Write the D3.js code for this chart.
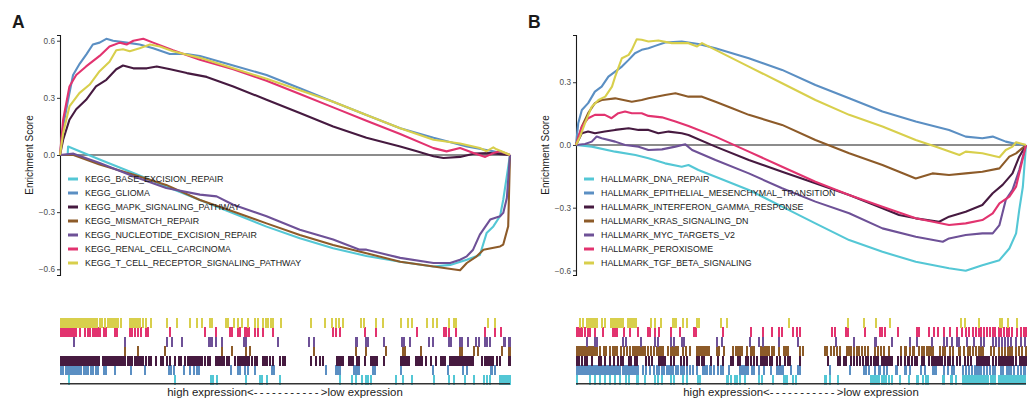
<!DOCTYPE html>
<html>
<head>
<meta charset="utf-8">
<script src="https://cdn.jsdelivr.net/npm/d3@7/dist/d3.min.js"></script>
<style>
  body { margin: 0; background: #fff; }
  svg { display: block; font-family: "Liberation Sans", Arial, sans-serif; }
</style>
</head>
<body>
<svg width="1035" height="400"></svg>
<script>
// ranked list length, hits are gene ranks in it
const N_GENES = 18000;

// panel A: KEGG sets, curves as [% of ranked list, enrichment score]
const keggNames = ['KEGG_BASE_EXCISION_REPAIR', 'KEGG_GLIOMA', 'KEGG_MAPK_SIGNALING_PATHWAY',
  'KEGG_MISMATCH_REPAIR', 'KEGG_NUCLEOTIDE_EXCISION_REPAIR', 'KEGG_RENAL_CELL_CARCINOMA',
  'KEGG_T_CELL_RECEPTOR_SIGNALING_PATHWAY'];

const esBaseExcision = [[0,0],[1.7,0],[1.8,0.045],[8.8,-0.024],[16.3,-0.095],[23.6,-0.165],[31.1,-0.236],[38.5,-0.306],[45.9,-0.376],[53.3,-0.437],[60.7,-0.49],[68.1,-0.53],[75.6,-0.56],[83.0,-0.585],[86.7,-0.577],[90.4,-0.55],[93.3,-0.525],[94.8,-0.41],[96.3,-0.375],[97.8,-0.32],[98.5,-0.235],[99.3,-0.11],[100,0]];
const esGlioma = [[0,0],[0.7,0.15],[1.8,0.29],[2.9,0.42],[4.4,0.48],[5.9,0.53],[7.3,0.58],[8.8,0.59],[10.3,0.61],[11.8,0.6],[14.8,0.59],[17.7,0.58],[20.7,0.56],[24.4,0.53],[28.1,0.53],[31.1,0.52],[38.5,0.47],[45.9,0.42],[53.3,0.35],[60.7,0.28],[68.1,0.21],[75.6,0.14],[83.0,0.09],[90.4,0.045],[96.3,0.02],[100,0]];
const esMapk = [[0,0],[0.7,0.08],[2.1,0.185],[3.6,0.24],[5.8,0.29],[8.0,0.36],[10.3,0.395],[12.5,0.45],[14.0,0.47],[16.3,0.455],[19.3,0.455],[21.5,0.465],[24.5,0.45],[28.2,0.43],[32.6,0.41],[38.5,0.36],[45.9,0.29],[53.3,0.22],[60.7,0.15],[68.1,0.09],[75.6,0.045],[79.3,0.02],[83.0,-0.007],[85.2,-0.016],[88.9,-0.01],[91.9,0.007],[95.6,0.01],[100,0]];
const esMismatch = [[0,0],[3.0,0],[8.8,-0.05],[16.2,-0.103],[23.6,-0.157],[31.1,-0.236],[38.5,-0.297],[45.9,-0.359],[53.3,-0.42],[60.7,-0.472],[68.1,-0.516],[75.6,-0.56],[83.0,-0.585],[88.9,-0.605],[90.4,-0.567],[92.6,-0.532],[94.1,-0.497],[97.8,-0.48],[98.5,-0.47],[99.6,-0.374],[100,0]];
const esNucleotide = [[0,0],[3.0,0.007],[8.8,-0.042],[16.3,-0.112],[23.6,-0.173],[31.1,-0.208],[34.8,-0.217],[38.5,-0.261],[45.9,-0.322],[53.3,-0.392],[60.7,-0.444],[66.6,-0.497],[68.1,-0.497],[75.6,-0.54],[83.0,-0.567],[86.7,-0.567],[88.9,-0.55],[90.4,-0.532],[91.8,-0.497],[93.3,-0.418],[95.6,-0.339],[97.8,-0.322],[98.5,-0.304],[99.3,-0.226],[100,0]];
const esRenal = [[0,0],[0.7,0.185],[2.1,0.36],[3.6,0.42],[5.8,0.465],[8.8,0.52],[11.0,0.57],[13.3,0.59],[14.8,0.58],[16.3,0.6],[18.5,0.61],[20.7,0.59],[25.1,0.55],[31.1,0.5],[38.5,0.45],[45.9,0.39],[53.3,0.32],[60.7,0.25],[68.1,0.18],[75.6,0.11],[83.0,0.036],[85.9,0.019],[88.9,0.037],[91.9,0.01],[94.5,-0.01],[96.3,0.01],[97.8,0.02],[100,0]];
const esTCell = [[0,0],[0.7,0.115],[2.1,0.255],[4.3,0.325],[6.6,0.37],[8.8,0.44],[11.0,0.49],[12.5,0.55],[14.0,0.555],[15.5,0.545],[17.7,0.56],[20.0,0.58],[22.2,0.57],[25.1,0.545],[31.1,0.51],[38.5,0.455],[45.9,0.4],[53.3,0.34],[60.7,0.28],[68.1,0.21],[75.6,0.14],[83.0,0.08],[88.9,0.06],[93.3,0.037],[94.8,0.02],[96.3,0.04],[97.0,0.03],[100,0]];

const hitsBaseExcision = [348,4600,6040,6100,6280,7440,8000,8080,8280,8800,11200,11680,11840,12080,12240,12320,12440,13440,13720,14080,14960,15560,15760,16200,16560,16960,17080,17200,17600,17680,17760,17840,17920,17990];
const hitsGlioma = [20,120,240,320,400,480,560,640,700,760,840,960,1040,1120,1220,1320,1440,1520,1740,1840,2180,2840,3400,4360,4440,4560,4960,5200,5360,5480,5560,6840,7120,7200,7400,7520,7800,8480,8540,10640,11040,11120,11200,11760,11840,11920,11960,12520,12600,13640,14920,15520,16120,16280,17240,17280,17400];
const hitsMapk = [20,60,120,180,240,300,360,420,480,540,600,660,720,780,840,900,960,1020,1080,1140,1200,1260,1320,1380,1440,1500,1560,1720,1800,1880,1960,2040,2120,2200,2280,2360,2440,2520,2600,2720,2800,2880,3000,3080,3160,3240,3320,3440,3560,3640,3840,4040,4120,4280,4400,4600,4760,4840,5000,5120,5200,5280,5360,5440,5520,5600,5680,5800,5920,6000,6240,6320,6400,6480,6560,6680,6760,6980,7120,7200,7280,7360,7440,7520,7560,7680,7800,7880,8120,8200,8280,8400,8520,8800,8920,9000,10040,10240,10400,10520,11080,11160,11240,11320,11560,11640,11720,11880,11960,12200,12440,12520,12600,12680,12960,13640,13720,13800,13880,13960,14240,14320,14400,14480,14640,14840,15040,15240,15320,15400,15600,15680,15760,15840,15920,16000,16080,16160,16240,16280,16360,16440,16520,16880,17000,17080,17160,17240,17320,17480,17600,17960,17990];
const hitsMismatch = [2600,3120,4200,6480,6880,7440,7600,10160,11840,12240,13040,13720,13780,14440,16000,16080,16560,16720,17680,17960,17990];
const hitsNucleotide = [560,2600,4280,4480,4880,5960,6000,6060,6240,6480,7360,7440,8720,9960,10160,11840,11880,12240,12320,12960,13680,13740,14000,14760,14920,15560,15640,16000,16080,16320,16640,16760,17000,17080,17200,17760,17800,17960,17990];
const hitsRenal = [20,80,160,240,320,400,480,560,620,800,1000,1120,1200,1320,1400,1480,1560,1600,1740,1840,2180,2280,2800,2880,3000,3120,3240,3440,3500,4400,5800,6240,6800,6880,7120,7200,7400,7480,7560,7800,7920,8120,8520,10920,11040,11200,12200,12640,14280,15360,15440,15560,15840,17000,17400,17640];
const hitsTCell = [20,60,120,180,240,300,360,440,520,580,640,720,760,840,900,960,1020,1100,1200,1260,1320,1400,1480,1600,1680,1800,1920,2000,2080,2160,2240,2320,2440,2800,2880,2960,3040,3120,3200,3320,3440,3640,4280,4680,5220,5480,5680,6000,6080,6640,6700,6960,7120,7280,7520,7800,7920,8120,8240,8320,8440,8520,8840,10040,10600,10880,11040,11160,11320,12040,12160,12640,12920,13640,13920,14080,14680,14920,15080,15560,15760,15840,17120,17400];

// panel B: HALLMARK sets
const hallmarkNames = ['HALLMARK_DNA_REPAIR', 'HALLMARK_EPITHELIAL_MESENCHYMAL_TRANSITION',
  'HALLMARK_INTERFERON_GAMMA_RESPONSE', 'HALLMARK_KRAS_SIGNALING_DN', 'HALLMARK_MYC_TARGETS_V2',
  'HALLMARK_PEROXISOME', 'HALLMARK_TGF_BETA_SIGNALING'];

const esDnaRepair = [[0,0],[3.5,-0.008],[8.7,-0.032],[13.2,-0.048],[16.1,-0.064],[19.8,-0.088],[23.5,-0.104],[25.0,-0.096],[27.2,-0.12],[31.0,-0.152],[38.4,-0.215],[45.8,-0.295],[53.2,-0.375],[60.7,-0.455],[68.1,-0.511],[75.5,-0.559],[82.9,-0.59],[86.6,-0.602],[90.3,-0.575],[94.1,-0.551],[96.3,-0.495],[97.8,-0.423],[98.5,-0.311],[99.3,-0.2],[100,0]];
const esEmt = [[0,0],[0.5,0.104],[1.3,0.167],[2.7,0.2],[4.2,0.255],[5.7,0.279],[7.2,0.327],[8.7,0.351],[10.2,0.375],[11.7,0.407],[13.1,0.439],[14.6,0.455],[16.1,0.463],[17.6,0.474],[19.8,0.49],[23.5,0.495],[27.2,0.483],[31.0,0.463],[38.4,0.415],[45.8,0.359],[53.2,0.287],[60.7,0.223],[68.1,0.16],[75.5,0.112],[82.9,0.072],[86.6,0.04],[90.3,0.032],[92.6,0.04],[95.5,0.016],[97.8,0.005],[100,0]];
const esIfng = [[0,0],[1.3,0.056],[2.7,0.064],[4.2,0.056],[6.4,0.064],[8.7,0.072],[11.7,0.08],[13.9,0.072],[16.1,0.072],[18.3,0.056],[20.6,0.064],[23.5,0.056],[25.0,0.048],[31.0,-0.008],[38.4,-0.072],[45.8,-0.128],[53.2,-0.183],[60.7,-0.239],[68.1,-0.303],[71.8,-0.335],[75.5,-0.351],[80.7,-0.367],[82.9,-0.343],[86.6,-0.319],[90.3,-0.287],[92.6,-0.231],[94.8,-0.191],[97.0,-0.136],[98.5,-0.056],[100,0]];
const esKras = [[0,0],[1.3,0.088],[2.7,0.152],[4.2,0.2],[5.7,0.215],[8.7,0.223],[12.4,0.207],[14.6,0.215],[16.1,0.223],[19.8,0.239],[22.1,0.247],[25.0,0.231],[28.0,0.231],[31.0,0.207],[34.7,0.176],[38.4,0.144],[45.8,0.096],[53.2,0.024],[60.7,-0.04],[68.1,-0.096],[75.5,-0.16],[79.2,-0.136],[82.9,-0.144],[86.6,-0.136],[90.3,-0.128],[94.1,-0.112],[96.3,-0.056],[97.8,-0.04],[100,0]];
const esMyc = [[0,0],[2.0,0.005],[3.5,0.016],[4.6,0.04],[5.7,0.032],[8.7,0.016],[10.9,0],[13.9,-0.008],[16.1,-0.024],[19.1,-0.021],[22.1,-0.008],[24.3,0.003],[25.8,-0.024],[31.0,-0.072],[38.4,-0.136],[45.8,-0.207],[53.2,-0.271],[60.7,-0.327],[68.1,-0.399],[75.5,-0.439],[81.5,-0.463],[82.9,-0.447],[86.6,-0.431],[90.3,-0.423],[92.6,-0.423],[94.1,-0.383],[95.5,-0.263],[97.0,-0.215],[98.5,-0.12],[100,0]];
const esPeroxisome = [[0,0],[1.3,0.088],[2.7,0.128],[4.2,0.144],[6.4,0.144],[7.9,0.128],[9.4,0.152],[10.9,0.16],[12.4,0.152],[14.6,0.152],[16.1,0.139],[19.1,0.132],[22.1,0.112],[25.0,0.091],[31.0,0.04],[38.4,-0.032],[45.8,-0.104],[53.2,-0.176],[60.7,-0.239],[68.1,-0.295],[75.5,-0.351],[82.9,-0.383],[86.6,-0.375],[90.3,-0.359],[92.6,-0.327],[94.1,-0.279],[96.3,-0.247],[97.8,-0.199],[100,0]];
const esTgfBeta = [[0,0],[0.9,0.04],[2.0,0.104],[3.5,0.183],[5.0,0.215],[6.5,0.231],[8.0,0.279],[8.7,0.327],[10.2,0.415],[11.7,0.431],[12.4,0.455],[13.5,0.506],[14.6,0.503],[16.1,0.495],[18.3,0.5],[21.3,0.487],[25.0,0.487],[26.9,0.471],[28.0,0.487],[31.0,0.455],[38.4,0.375],[45.8,0.295],[53.2,0.215],[60.7,0.144],[68.1,0.088],[75.5,0.024],[80.0,-0.008],[85.2,-0.048],[86.6,-0.032],[90.3,-0.04],[94.1,-0.059],[95.5,-0.024],[97.0,-0.008],[97.8,0.013],[100,0]];

const hitsDnaRepair = [20,560,760,940,1160,1360,1560,1760,2000,2120,2440,2480,2760,3160,3280,3440,3800,3920,4280,4440,4880,4960,6040,6080,6200,6360,6440,6560,6760,7320,7440,7880,8320,8360,8440,8680,8800,9960,10000,10160,10480,11800,11880,11960,12040,12120,12240,12320,12400,12520,12640,12960,13320,13640,13680,13880,14000,14080,14680,14720,15000,15040,15200,15480,15560,15640,15720,15800,15880,15960,16040,16120,16200,16280,16360,16400,16480,16600,16680,16760,16920,17000,17080,17160,17240,17320,17400,17480,17560,17640,17720,17800,17880,17960];
const hitsEmt = [20,80,160,240,320,400,440,520,600,680,760,840,920,960,1000,1080,1160,1240,1280,1360,1440,1520,1600,1680,1760,1880,1920,2000,2080,2160,2240,2320,2400,2480,2680,2800,2960,3120,3240,3320,3440,3520,3640,3720,3800,3880,4000,4080,4200,4280,4320,4440,4560,4680,4840,5080,5160,5240,5360,5400,5520,5680,5800,5880,6120,6560,6640,6720,6800,6880,7040,7120,7320,7520,7800,8040,8120,8200,8280,8600,8880,8960,10160,10960,11520,11600,11720,11960,12120,12160,12320,12440,12800,12840,13160,13200,13360,13800,13960,14280,14320,14400,14720,14880,15040,15120,15480,15600,15720,15840,15960,16040,16120,16200,16320,16440,16560,16680,16760,17000,17080,17240,17320,17400,17520,17680,17800,17920,17960];
const hitsIfng = [20,120,240,360,440,640,920,1000,1160,1360,1520,1680,1800,1880,2120,2200,2360,2440,2800,2920,3040,3320,3400,3480,3560,3800,3920,4200,4320,4440,4840,4920,5040,5120,5400,5680,5880,6200,6280,6480,6560,6800,6880,7000,7120,7240,7400,7480,7560,7640,7760,7840,8040,8160,8360,8480,8560,8960,10080,10480,10560,10720,10800,11000,11120,11240,11360,11480,11600,11680,11800,11920,12000,12080,12240,12320,12400,12480,12560,12640,12880,13000,13160,13280,13320,13440,13560,13640,13840,13920,14120,14240,14320,14400,14480,14560,14640,14760,14880,14960,15080,15240,15360,15560,15680,15800,16040,16120,16200,16280,16360,16440,16520,16680,16800,16920,17000,17080,17160,17240,17320,17400,17480,17600,17760,17840,17920,17990];
const hitsKras = [20,80,160,240,320,400,480,520,600,680,760,840,940,1120,1200,1360,1460,1560,1640,1800,1920,2040,2160,2280,2360,2440,2520,2600,2680,2760,2880,3000,3120,3240,3320,3400,3480,3680,3800,3880,3960,4040,4080,4280,4400,4560,4840,4920,5000,5080,5160,5240,5320,5640,5720,5920,6280,6400,6480,6560,6640,6840,7000,7080,7120,7400,7480,7560,7640,7720,7840,7920,8120,8320,8400,8480,8960,9080,9960,10040,10200,10320,10440,10560,10840,10920,11000,11120,11240,11320,11440,11560,11680,11960,12080,12200,12320,12520,13000,13160,13200,13360,13480,13520,13720,13840,13920,14040,14120,14200,14280,14560,14680,14760,14960,15080,15320,15360,15520,15680,15760,15880,16000,16120,16160,16200,16280,16600,16720,16920,17040,17160,17280,17360,17440,17600,17720,17840,17990];
const hitsMyc = [440,760,840,1880,2000,2600,3160,3280,3800,3920,4240,4320,5640,5840,6960,7320,7480,8120,8880,10400,11120,11960,12000,12640,13360,13640,14240,14720,14840,15040,15240,15320,15640,15920,16200,16320,16680,16800,16920,17040,17160,17280,17400,17600,17800,17960];
const hitsPeroxisome = [20,80,160,240,360,480,560,760,1080,1480,1560,1640,1920,2160,2480,2880,2960,3160,3320,3800,4160,4720,4800,5880,7000,7480,7840,8120,8240,8680,8840,8960,10240,10360,10800,10880,11560,12160,12240,12360,12880,13640,13720,14120,14320,14480,14720,14960,15240,15440,15600,15720,15880,16000,16120,16200,16320,16440,16560,16680,16760,16920,17000,17120,17240,17320,17440,17640,17800,17920,17990];
const hitsTgfBeta = [160,280,440,520,600,680,740,840,1040,1160,1400,1480,1560,1640,1720,1800,1880,2080,2160,2240,2320,2400,3000,3160,3400,3880,3940,4000,4280,4440,4840,4920,5800,6040,8520,10880,11520,12000,12560,15400,15560,16120,16960,17020,17280,17640];

const yTicksA = [-0.6, -0.3, 0, 0.3, 0.6];
const yTicksB = [-0.6, -0.3, 0, 0.3];

const palette = ['#54c7d5', '#5b8fc3', '#461a40', '#8d5b29', '#6e5197', '#e2336f', '#d8cf4c'];

const svg = d3.select('svg');

function drawPanel(cfg) {
  const x = d3.scaleLinear().domain([0, 100]).range([cfg.left, cfg.left + 450]);
  const y = d3.scaleLinear().domain(cfg.yDomain).range([275, 35]);
  const g = svg.append('g');

  // panel letter
  g.append('text')
    .attr('x', cfg.left - 48).attr('y', 27.5)
    .attr('font-size', 17.5).attr('font-weight', 'bold').attr('fill', '#1a1a1a')
    .text(cfg.letter);

  // y axis
  const yAxis = g.append('g')
    .attr('transform', `translate(${cfg.left},0)`)
    .call(d3.axisLeft(y).tickValues(cfg.ticks).tickSize(3).tickPadding(2)
      .tickFormat(d => d3.format('.1f')(d).replace('-', '\u2212')));
  yAxis.select('.domain').attr('stroke', '#1a1a1a').attr('stroke-width', 1.1);
  yAxis.selectAll('.tick line').attr('stroke', '#333');
  yAxis.selectAll('.tick text').attr('fill', '#4d4d4d').attr('font-size', 8.2)
    .attr('font-family', '"Liberation Sans", Arial, sans-serif');

  g.append('text')
    .attr('transform', `translate(${cfg.left - 27},155) rotate(-90)`)
    .attr('text-anchor', 'middle')
    .attr('font-size', 10).attr('fill', '#1a1a1a')
    .text('Enrichment Score');

  // zero line
  g.append('line')
    .attr('x1', x(0)).attr('x2', x(100))
    .attr('y1', y(0)).attr('y2', y(0))
    .attr('stroke', '#1a1a1a').attr('stroke-width', 1.1);

  // running enrichment score curves
  const line = d3.line().x(d => x(d[0])).y(d => y(d[1]));
  cfg.curves.forEach((c, i) => {
    g.append('path')
      .datum(c)
      .attr('d', line)
      .attr('fill', 'none')
      .attr('stroke', palette[i])
      .attr('stroke-width', 2.1)
      .attr('stroke-linejoin', 'round');
  });

  // legend
  cfg.names.forEach((name, i) => {
    const ly = 179 + i * 14;
    g.append('line')
      .attr('x1', cfg.left + 8).attr('x2', cfg.left + 18)
      .attr('y1', ly).attr('y2', ly)
      .attr('stroke', palette[i]).attr('stroke-width', 3);
    g.append('text')
      .attr('x', cfg.left + 25).attr('y', ly + 3.3)
      .attr('font-size', 8.85).attr('fill', '#1a1a1a')
      .text(name);
  });

  // hit rug, last set on top
  const rows = d3.scaleBand().domain(d3.range(7).reverse()).range([318, 384]);
  cfg.hits.forEach((hits, i) => {
    g.selectAll(null)
      .data(hits)
      .enter().append('rect')
      .attr('x', d => Math.round(x(d / N_GENES * 100)) - 1)
      .attr('y', Math.round(rows(i)))
      .attr('width', 1.6)
      .attr('height', Math.round(rows.bandwidth()) + 1)
      .attr('shape-rendering', 'crispEdges')
      .attr('fill', palette[i]);
  });
  g.append('line')
    .attr('x1', x(0)).attr('x2', x(100))
    .attr('y1', 383.8).attr('y2', 383.8)
    .attr('stroke', '#333').attr('stroke-width', 1.4);

  const lab = g.append('text')
    .attr('x', x(50)).attr('y', 396)
    .attr('text-anchor', 'middle')
    .attr('font-size', 11.4).attr('fill', '#1a1a1a');
  lab.append('tspan').text('high expression<');
  lab.append('tspan').attr('letter-spacing', 2.3).text('-----------');
  lab.append('tspan').text('>low expression');
}

drawPanel({
  letter: 'A', left: 60, yDomain: [-0.63, 0.63], ticks: yTicksA, names: keggNames,
  curves: [esBaseExcision, esGlioma, esMapk, esMismatch, esNucleotide, esRenal, esTCell],
  hits: [hitsBaseExcision, hitsGlioma, hitsMapk, hitsMismatch, hitsNucleotide, hitsRenal, hitsTCell]
});

drawPanel({
  letter: 'B', left: 576, yDomain: [-0.622, 0.526], ticks: yTicksB, names: hallmarkNames,
  curves: [esDnaRepair, esEmt, esIfng, esKras, esMyc, esPeroxisome, esTgfBeta],
  hits: [hitsDnaRepair, hitsEmt, hitsIfng, hitsKras, hitsMyc, hitsPeroxisome, hitsTgfBeta]
});
</script>
</body>
</html>
